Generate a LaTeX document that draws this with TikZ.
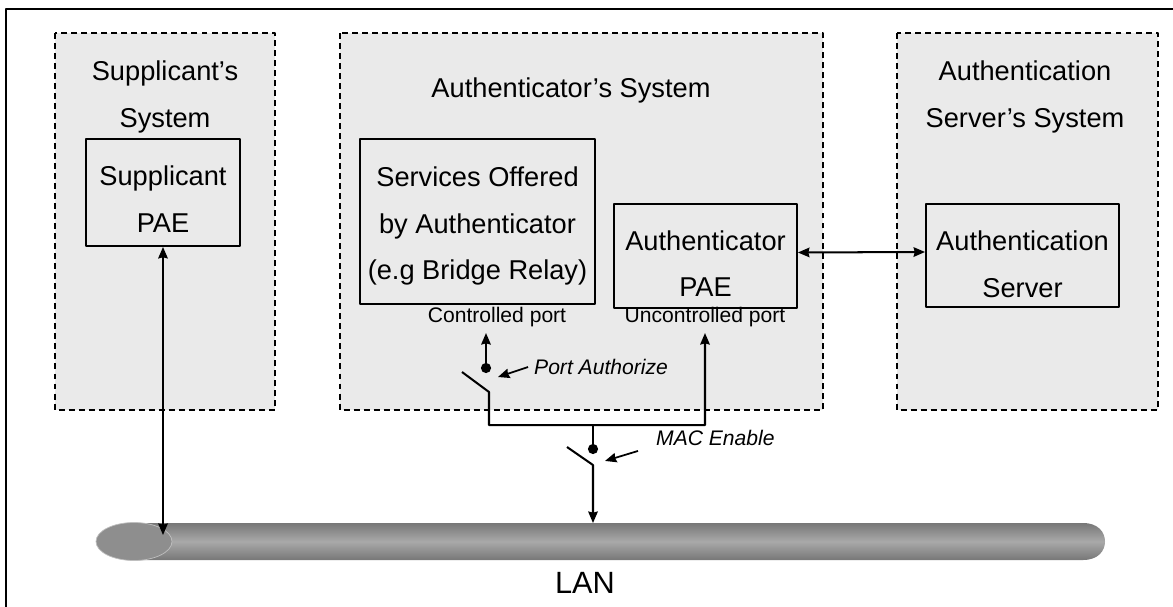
\documentclass[tikz,border=0pt]{standalone}
\usepackage{fontspec}
\setmainfont{Liberation Sans}
\usetikzlibrary{arrows.meta}
\definecolor{sysfill}{HTML}{EAEAEA}
\definecolor{landark}{HTML}{777777}
\definecolor{lanlight}{HTML}{A9A9A9}
\definecolor{lanend}{HTML}{8E8E8E}
\tikzset{
	sysbox/.style={draw, line width=1.1pt, dash pattern=on 3.4pt off 2.3pt, fill=sysfill},
	unit/.style={draw, line width=1.1pt, inner sep=0pt},
	ttl/.style={align=center, font=\fontsize{15.5}{26.6}\selectfont},
	port/.style={font=\fontsize{12}{14}\selectfont},
	note/.style={font=\fontsize{12}{14}\selectfont\itshape, anchor=west},
}
\begin{document}
\begin{tikzpicture}[x=0.02cm, y=-0.02cm, line join=round, >={Stealth[length=6.5pt, width=5.4pt, inset=0.6pt]}]
	\useasboundingbox (0,0) rectangle (1173,606);
	\clip (0,0) rectangle (1173,606);
	\draw[line width=1.2pt] (6,9) rectangle (1190,620);
	% systems
	\draw[sysbox] (55,33) rectangle (275,410);
	\draw[sysbox] (340,33) rectangle (823,410);
	\draw[sysbox] (897,33) rectangle (1158,410);
	\node[ttl] (supsys) at (165,97) {Supplicant's\\System};
	\node[ttl] (authsys) at (571,90) {Authenticator's System};
	\node[ttl] (srvsys) at (1025,97) {Authentication\\Server's System};
	% units
	\node[unit, minimum width=3.08cm, minimum height=2.14cm] (supp) at (163,192.5) {};
	\node[unit, minimum width=4.7cm, minimum height=3.3cm] (serv) at (477.5,221.5) {};
	\node[unit, minimum width=3.66cm, minimum height=2.08cm] (pae) at (705.5,256) {};
	\node[unit, minimum width=3.86cm, minimum height=2.06cm] (srv) at (1022.5,255.5) {};
	\node[ttl] (supp-t) at ([yshift=-3.6pt]supp) {Supplicant\\PAE};
	\node[ttl] (serv-t) at ([yshift=-2.6pt]serv) {Services Offered\\by Authenticator\\(e.g Bridge Relay)};
	\node[ttl] (pae-t) at ([yshift=-4.4pt]pae) {Authenticator\\PAE};
	\node[ttl] (srv-t) at ([yshift=-4.8pt]srv) {Authentication\\Server};
	\node[port] (ctrl) at (497,317) {Controlled port};
	\node[port] (unctrl) at (705,317) {Uncontrolled port};
	% LAN
	\shade[top color=landark, bottom color=landark, middle color=lanlight]
		(134,523) -- (1083,523) .. controls (1098,523) and (1105,532) .. (1105,541.5)
		.. controls (1105,551) and (1098,560) .. (1083,560) -- (134,560) -- cycle;
	\draw[draw=black!25, fill=lanend] (134,541.5) ellipse [x radius=38, y radius=19];
	\node[font=\fontsize{17.5}{20}\selectfont] (lan) at (585,583) {LAN};
	\coordinate (lansup) at (163,535);
	\coordinate (lanauth) at (593,523);
	% switches
	\coordinate (pa) at (486,368);
	\coordinate (me) at (593,449);
	\fill (pa) circle (2.9pt) (me) circle (2.9pt);
	\begin{scope}[line width=1.15pt]
		\draw[<->] (supp.south) -- (lansup);
		\draw[<->] ([yshift=2pt]pae.east) -- ([yshift=2pt]srv.west);
		\draw[->] (pa) -- (ctrl.south -| pa);
		\draw[->] (462,372) -- (489,392) -- (489,425) -| (unctrl.south);
		\draw (593,425) -- (me);
		\draw[->] (567,447) -- (593,465) -- (lanauth);
	\end{scope}
	\node[note] (paut) at (528,367) {Port Authorize};
	\node[note] (mac) at (650,438) {MAC Enable};
	\draw[->, line width=1pt] (paut.west) -- +(-30,10);
	\draw[->, line width=1pt] (mac.south west) ++(-12,-1) -- +(-33,10);
\end{tikzpicture}
\end{document}
